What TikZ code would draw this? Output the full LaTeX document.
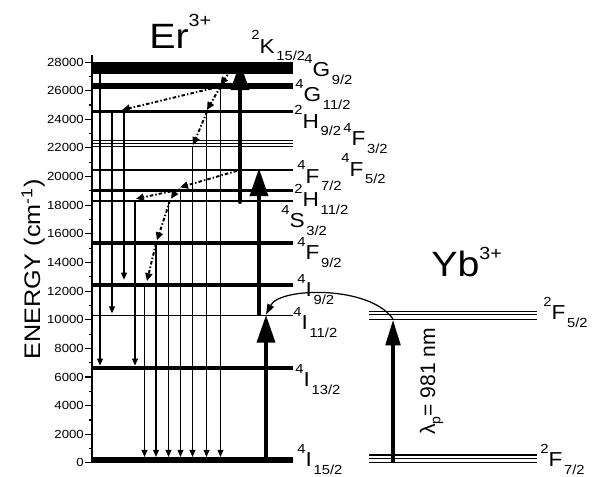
\documentclass[tikz,border=0pt]{standalone}
\usepackage{fontspec}
\setmainfont{Liberation Sans}[FakeStretch=1.12]
\newfontfamily\plainsans{Liberation Sans}
\usetikzlibrary{arrows.meta}

% term symbol: left superscript, letter, subscript
\newcommand{\term}[3]{\raisebox{7.5pt}{\fontsize{7.5}{8}\selectfont #1}#2\hspace{1pt}\raisebox{-4.5pt}{\fontsize{7.5}{8}\selectfont #3}}

\begin{document}
\begin{tikzpicture}[
  x=0.02cm, y=0.2864cm,
  lvl/.style={line width=#1},
  decay/.style={line width=0.6pt, -{Triangle[length=4pt, width=3.4pt]}},
  relax/.style={line width=1.1pt, dash pattern=on 2pt off 1.2pt on 0.8pt off 1.2pt, -{Triangle[length=4.5pt, width=4pt]}},
  pump/.style={line width=2.8pt, -{Triangle[length=16pt, width=10pt]}},
  et/.style={line width=0.7pt, -{Triangle[length=6pt, width=4pt]}},
  axtick/.style={line width=0.6pt},
  termlbl/.style={anchor=base west, inner sep=0pt, font=\fontsize{11.5}{12}\selectfont}
]
  \useasboundingbox (0,-0.978) rectangle (594,32.333);

  % energy axis (units of 1000 cm^-1)
  \draw[line width=0.7pt] (92,0) -- (92,28.5);
  \foreach \e in {0,2,...,28} {
    \draw[axtick] (85,\e) -- (92,\e);
    \node[anchor=east, inner sep=0.5pt, font=\fontsize{6.7}{7}\selectfont] (tk\e) at (85,\e) {\ifnum\e=0 0\else\e000\fi};
  }
  \foreach \e in {1,3,...,27}
    \draw[axtick] (88.5,\e) -- (92,\e);
  \node[rotate=90, anchor=base, font=\fontsize{12.8}{13}\selectfont] (ylab) at (40,13.51) {ENERGY (cm\textsuperscript{-1})};

  % Er levels
  \foreach \e/\w in {27.22/0.9pt, 27.36/0.9pt, 27.5/0.9pt, 27.64/0.9pt, 27.78/0.9pt, 27.94/0.9pt,
                     26.17/1.2pt, 26.3/1.2pt, 26.43/1.2pt, 24.53/1.5pt,
                     22.49/0.6pt, 22.33/0.6pt, 22.09/0.7pt, 20.46/1.2pt, 19.02/2pt, 18.32/1.2pt,
                     15.34/2.2pt, 12.43/2.4pt, 10.29/0.7pt, 6.65/2.2pt,
                     0.06/0.9pt, 0.21/0.9pt, 0.36/0.9pt}
    \draw[lvl=\w] (92,\e) -- (293,\e);
  \fill (92,27.16) rectangle (110,28.02);
  \fill (92,26.1) rectangle (110,26.51);
  \fill (92,-0.02) rectangle (110,0.44);

  % Yb levels
  \foreach \e in {10.57, 10.38, 10.03, 0.56, 0.33, 0.05}
    \draw[lvl=0.8pt] (369,\e) -- (537,\e);

  % radiative decays
  \foreach \x/\a/\b in {100/27.2/6.8, 112/24.53/10.45, 124/24.53/12.8, 135/18.32/6.8,
                        144.5/12.43/0.42, 156/15.34/0.42, 168.5/18.32/0.42, 180.5/19.02/0.42,
                        192.5/22.09/0.42, 206.5/24.53/0.42, 220.5/26.1/0.42}
    \draw[decay] (\x,\a) -- (\x,\b);

  % nonradiative relaxation
  \draw[relax] (236,27.95) -- (220.5,26.4);
  \draw[relax] (220.5,26.3) -- (122,24.65);
  \draw[relax] (220.5,26.3) -- (207,24.65);
  \draw[relax] (207,24.53) -- (193,22.2);
  \draw[relax] (237,20.4) -- (180,19.25);
  \draw[relax] (180,19.1) -- (136,18.45);
  \draw[relax] (176,19.0) -- (171,18.45);
  \draw[relax] (170,18.32) -- (157,15.55);
  \draw[relax] (156,15.34) -- (147,12.7);

  % pumping and energy transfer
  \coordinate (erG) at (266,0.2);
  \coordinate (erI) at (266,10.36);
  \coordinate (ybG) at (393,0.05);
  \coordinate (ybE) at (393,10.05);
  \draw[pump] (erG) -- (erI);
  \draw[pump] (259,10.29) -- (259,20.6);
  \draw[pump, line cap=round] (240,18.25) -- (240,28.0);
  \draw[pump, -{Triangle[length=15pt, width=8pt]}] (ybG) -- (ybE);
  \draw[et] (ybE) .. controls (370,12.4) and (280,12.3) .. (erI);
  \node[rotate=90, anchor=base, font=\plainsans\fontsize{12}{12}\selectfont] (lam) at (435,5.69)
    {λ\raisebox{-3pt}{\fontsize{8}{8}\selectfont p}= 981 nm};

  % ion names
  \node[anchor=base west, inner sep=0pt, font=\fontsize{20}{20}\selectfont] (er) at (149,28.98)
    {Er\raisebox{12pt}{\fontsize{10}{10}\selectfont 3+}};
  \node[anchor=base west, inner sep=0pt, font=\fontsize{20}{20}\selectfont] (yb) at (431,13.01)
    {Yb\raisebox{9.5pt}{\fontsize{10}{10}\selectfont 3+}};

  % term labels
  \node[termlbl] (k152) at (251,28.63) {\term{2}{K}{15/2}};
  \node[termlbl] (g92) at (304,26.96) {\term{4}{G}{9/2}};
  \node[termlbl] (g112) at (295,25.21) {\term{4}{G}{11/2}};
  \node[termlbl] (h92) at (294,23.39) {\term{2}{H}{9/2}};
  \node[termlbl] (f32) at (343,22.14) {\term{4}{F}{3/2}};
  \node[termlbl] (f52) at (341,20.04) {\term{4}{F}{5/2}};
  \node[termlbl] (f72) at (297,19.55) {\term{4}{F}{7/2}};
  \node[termlbl] (h112) at (294,17.88) {\term{2}{H}{11/2}};
  \node[termlbl] (s32) at (281,16.41) {\term{4}{S}{3/2}};
  \node[termlbl] (f92) at (297,14.18) {\term{4}{F}{9/2}};
  \node[termlbl] (i92) at (297,11.6) {\term{4}{I}{9/2}};
  \node[termlbl] (i112) at (293,9.29) {\term{4}{I}{11/2}};
  \node[termlbl] (i132) at (295,5.31) {\term{4}{I}{13/2}};
  \node[termlbl] (i152) at (297,-0.28) {\term{4}{I}{15/2}};
  \node[termlbl] (fy52) at (543,9.99) {\term{2}{F}{5/2}};
  \node[termlbl] (fy72) at (540,-0.28) {\term{2}{F}{7/2}};
\end{tikzpicture}
\end{document}
